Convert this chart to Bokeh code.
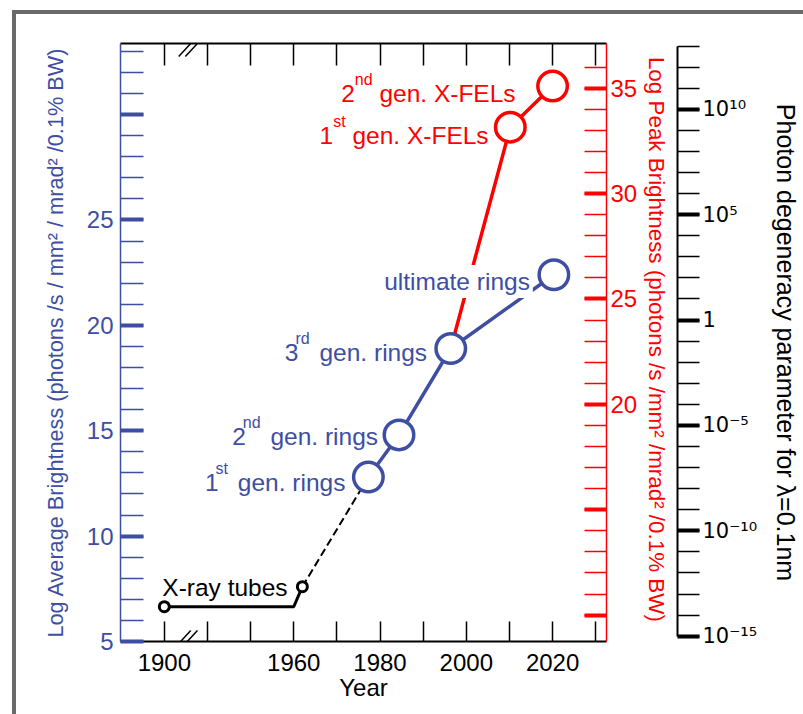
import re
from bokeh.plotting import figure
from bokeh.models import (Range1d, LinearAxis, FixedTicker, Arrow, ColumnDataSource)
from bokeh.core.properties import value
from bokeh.embed import file_html
from bokeh.resources import INLINE

# ---------------- data ----------------
tube_label = "X-ray tubes"
tube_years = [1900, 1960, 1962]
tube_avg = [6.65, 6.65, 7.6]
tube_marker_years = [1900, 1962]
tube_marker_avg = [6.65, 7.6]

ring_labels = ["1st gen. rings", "2nd gen. rings", "3rd gen. rings", "ultimate rings"]
ring_years = [1977.3, 1984.4, 1996.4, 2020.3]
ring_avg = [12.8, 14.8, 18.9, 22.4]

fel_labels = ["1st gen. X-FELs", "2nd gen. X-FELs"]
fel_years = [2010.2, 2020.0]
fel_peak = [33.15, 35.1]

year_ticks = [1900, 1940, 1950, 1960, 1970, 1980, 1990, 2000, 2010, 2020, 2030]
year_tick_labels = ["1900", "", "", "1960", "", "1980", "", "2000", "", "2020", ""]
avg_ticks = [5, 10, 15, 20, 25, 30]
avg_tick_labels = ["5", "10", "15", "20", "25", ""]
peak_ticks = [10, 15, 20, 25, 30, 35]
peak_tick_labels = ["", "", "20", "25", "30", "35"]
deg_ticks = [-15, -10, -5, 0, 5, 10]
deg_tick_labels = ["10\u207b\u00b9\u2075", "10\u207b\u00b9\u2070", "10\u207b\u2075", "1",
                   "10\u2075", "10\u00b9\u2070"]

# ---------------- scales ----------------
BREAK_YEAR = 1930      # axis is broken: earlier years are shifted right
BREAK_SHIFT = 30
X_RANGE = (1919.84, 2032.5)
AVG_RANGE = (5.0, 33.37)
PEAK_OFFSET = 3.75     # peak brightness scale = average scale + offset
DEG_OFFSET = -20.25    # log10 degeneracy = average scale + offset
DEG_BOUNDS = (-15, 13)


def pos(year):
    return year + BREAK_SHIFT if year < BREAK_YEAR else year


BLUE = "#3e4ea2"
RED = "#ff0000"
GREY = "#6a6a6a"
FONT = "Liberation Sans"

p = figure(width=803, height=714,
           x_range=Range1d(*X_RANGE), y_range=Range1d(*AVG_RANGE),
           output_backend="svg", toolbar_location=None,
           min_border_left=120, min_border_right=195,
           min_border_top=43, min_border_bottom=73)
p.extra_y_ranges = {
    "peak": Range1d(AVG_RANGE[0] + PEAK_OFFSET, AVG_RANGE[1] + PEAK_OFFSET),
    "deg": Range1d(AVG_RANGE[0] + DEG_OFFSET, AVG_RANGE[1] + DEG_OFFSET),
}
p.xgrid.visible = False
p.ygrid.visible = False
p.outline_line_color = None
p.background_fill_color = "white"
p.border_fill_color = None
# grey frame of the original figure (left and top edges only)
p.styles = {
    "background": (f"linear-gradient({GREY},{GREY}) 12px 10px / 4px 100% no-repeat, "
                   f"linear-gradient({GREY},{GREY}) 12px 10px / 100% 4px no-repeat, white"),
}

# ---------------- axes ----------------
xpos_ticks = [pos(y) for y in year_ticks]
xb = p.xaxis[0]
xb.ticker = FixedTicker(ticks=xpos_ticks, minor_ticks=[])
xb.major_label_overrides = {t: l for t, l in zip(xpos_ticks, year_tick_labels)}
xb.major_tick_in = 20
xb.major_tick_out = 0
xb.major_tick_line_width = 1.5
xb.major_tick_line_color = "black"
xb.axis_line_width = 2
xb.axis_line_color = "black"
xb.major_label_text_font = FONT
xb.major_label_text_font_size = "24px"
xb.major_label_text_color = "black"
xb.major_label_standoff = 12
xb.axis_label = "Year"
xb.axis_label_text_font = FONT
xb.axis_label_text_font_style = "normal"
xb.axis_label_text_font_size = "24px"
xb.axis_label_text_color = "black"
xb.axis_label_standoff = 0

xt = LinearAxis(ticker=FixedTicker(ticks=xpos_ticks, minor_ticks=[]),
                major_label_overrides={t: "" for t in xpos_ticks},
                major_label_text_font_size="0px",
                major_tick_in=22, major_tick_out=0, major_tick_line_width=1.5,
                axis_line_width=2, axis_line_color="black")
p.add_layout(xt, "above")

yl = p.yaxis[0]
yl.ticker = FixedTicker(ticks=avg_ticks, minor_ticks=list(range(5, 34)))
yl.major_label_overrides = {t: l for t, l in zip(avg_ticks, avg_tick_labels)}
yl.major_tick_in = 23
yl.major_tick_out = 0
yl.minor_tick_in = 23
yl.minor_tick_out = 0
yl.major_tick_line_width = 4
yl.minor_tick_line_width = 1.5
yl.major_tick_line_color = BLUE
yl.minor_tick_line_color = BLUE
yl.axis_line_color = BLUE
yl.axis_line_width = 1.5
yl.major_label_text_font = FONT
yl.major_label_text_font_size = "24px"
yl.major_label_text_color = BLUE
yl.major_label_standoff = 7
yl.axis_label = "Log Average Brightness (photons /s / mm\u00b2 / mrad\u00b2 /0.1% BW)"
yl.axis_label_text_font = FONT
yl.axis_label_text_font_style = "normal"
yl.axis_label_text_font_size = "21.7px"
yl.axis_label_text_color = BLUE
yl.axis_label_standoff = 16

yr = LinearAxis(y_range_name="peak",
                ticker=FixedTicker(ticks=peak_ticks, minor_ticks=list(range(10, 37))),
                major_label_overrides={t: l for t, l in zip(peak_ticks, peak_tick_labels)},
                major_tick_in=22, major_tick_out=0, minor_tick_in=22, minor_tick_out=0,
                major_tick_line_width=4, minor_tick_line_width=1.5,
                major_tick_line_color=RED, minor_tick_line_color=RED,
                axis_line_color=RED, axis_line_width=1.5,
                major_label_text_font=FONT, major_label_text_font_size="24px",
                major_label_text_color=RED, major_label_standoff=4,
                axis_label="Log Peak Brightness  (photons /s /mm\u00b2 /mrad\u00b2 /0.1% BW)",
                axis_label_text_font=FONT, axis_label_text_font_style="normal",
                axis_label_text_font_size="22.4px", axis_label_text_color=RED,
                axis_label_standoff=4)
p.add_layout(yr, "right")

spacer = LinearAxis(y_range_name="peak", ticker=FixedTicker(ticks=[], minor_ticks=[]),
                    axis_line_color=None, major_tick_line_color=None,
                    minor_tick_line_color=None, major_label_text_font_size="0px",
                    axis_label=" ", axis_label_text_font_size="1px",
                    axis_label_standoff=1)
p.add_layout(spacer, "right")

yd = LinearAxis(y_range_name="deg", bounds=DEG_BOUNDS,
                ticker=FixedTicker(ticks=deg_ticks,
                                   minor_ticks=list(range(DEG_BOUNDS[0], DEG_BOUNDS[1] + 1))),
                major_label_overrides={t: l for t, l in zip(deg_ticks, deg_tick_labels)},
                major_tick_in=0, major_tick_out=22, minor_tick_in=0, minor_tick_out=22,
                major_tick_line_width=4, minor_tick_line_width=1.5,
                major_tick_line_color="black", minor_tick_line_color="black",
                axis_line_color="black", axis_line_width=2,
                major_label_text_font="DejaVu Sans", major_label_text_font_size="21px",
                major_label_text_color="black", major_label_standoff=3,
                axis_label="Photon degeneracy parameter for \u03bb=0.1nm",
                axis_label_text_font=FONT, axis_label_text_font_style="normal",
                axis_label_text_font_size="25px", axis_label_text_color="black",
                axis_label_standoff=12)
p.add_layout(yd, "right")

# axis break marks (kept inside the frame, touching the axis lines)
BREAK_AT = 1935.5
bdx, bdy, bgap = 1.4, 0.31, 1.55
brk = ColumnDataSource(dict(
    x0=[BREAK_AT - bdx - bgap / 2, BREAK_AT - bdx + bgap / 2] * 2,
    x1=[BREAK_AT + bdx - bgap / 2, BREAK_AT + bdx + bgap / 2] * 2,
    y0=[AVG_RANGE[0] - 0.1] * 2 + [AVG_RANGE[1] - 2 * bdy] * 2,
    y1=[AVG_RANGE[0] + 2 * bdy - 0.1] * 2 + [AVG_RANGE[1]] * 2,
))
p.add_layout(Arrow(source=brk, x_start="x0", y_start="y0", x_end="x1", y_end="y1",
                   start=None, end=None, line_color="black", line_width=1.5))

# ---------------- data marks ----------------
tube_x = [pos(y) for y in tube_years]
p.line(tube_x, tube_avg, line_color="black", line_width=3)
p.line([tube_x[-1], ring_years[0]], [tube_avg[-1], ring_avg[0]],
       line_color="black", line_width=2, line_dash="8 4")
p.line(ring_years, ring_avg, line_color=BLUE, line_width=3.5)
red_x = [ring_years[2]] + fel_years
red_y = [ring_avg[2] + PEAK_OFFSET] + fel_peak
p.line(red_x, red_y, line_color=RED, line_width=3.5, y_range_name="peak")

p.scatter([pos(y) for y in tube_marker_years], tube_marker_avg, size=10,
          fill_color="white", line_color="black", line_width=3)
p.scatter(ring_years, ring_avg, size=29.5, fill_color="white", line_color=BLUE,
          line_width=3.5)
p.scatter(fel_years, fel_peak, size=29.5, fill_color="white", line_color=RED,
          line_width=3.5, y_range_name="peak")

# ---------------- labels ----------------
ARIAL = {" ": 278, ".": 278, "-": 333, "a": 556, "b": 556, "d": 556, "e": 556, "g": 556,
         "i": 222, "l": 222, "m": 833, "n": 556, "r": 333, "s": 500, "t": 278, "u": 556,
         "y": 500, "X": 667, "F": 611, "E": 667, "L": 556}


def tw(s, fs):
    return sum(ARIAL.get(c, 556) for c in s) * fs / 1000.0


MAIN_FS, SUP_FS, SUP_RISE = 24.5, 16.0, 14.0


def add_labels(labels, xs, ys, offsets, color, range_name="default", align="right",
               knockout=False):
    main = dict(x=[], y=[], text=[], xo=[], yo=[])
    sup = dict(x=[], y=[], text=[], xo=[], yo=[])
    for lab, x, y, (dx, dy) in zip(labels, xs, ys, offsets):
        m = re.match(r"^(\d+)(st|nd|rd|th)(.*)$", lab)
        pre, sp, rest = m.groups() if m else ("", "", lab)
        total = tw(pre, MAIN_FS) + tw(sp, SUP_FS) + tw(rest, MAIN_FS)
        x0 = dx - total if align == "right" else dx
        lead = len(rest) - len(rest.lstrip(" "))
        x_rest = x0 + tw(pre, MAIN_FS) + tw(sp, SUP_FS) + tw(rest[:lead], MAIN_FS)
        for d, t, xo, yo in ((main, pre, x0, dy),
                             (sup, sp, x0 + tw(pre, MAIN_FS), dy - SUP_RISE),
                             (main, rest.lstrip(" "), x_rest, dy)):
            if t:
                d["x"].append(x); d["y"].append(y); d["text"].append(t)
                d["xo"].append(xo); d["yo"].append(yo)
    for d, fs in ((main, MAIN_FS), (sup, SUP_FS)):
        if d["x"]:
            extra = {}
            if knockout and d is main:
                extra = dict(background_fill_color="white", padding=3)
            p.text(x="x", y="y", text="text", x_offset="xo", y_offset="yo",
                   source=ColumnDataSource(d), text_font=value(FONT),
                   text_font_size=f"{fs}px", text_color=color, text_align="left",
                   text_baseline="alphabetic", y_range_name=range_name, **extra)


ring_label_offsets = [(-26, 5.7), (-24, 2), (-26.7, 4), (-27, 6.7)]
fel_label_offsets = [(-21.7, 8.3), (-37, 7)]
add_labels(ring_labels, ring_years, ring_avg, ring_label_offsets, BLUE, knockout=True)
add_labels(fel_labels, fel_years, fel_peak, fel_label_offsets, RED, "peak")
add_labels([tube_label], [pos(tube_marker_years[0])], [tube_marker_avg[0]], [(-2, -19)],
           "black", align="left")

open("out.html", "w").write(file_html(p, INLINE))
